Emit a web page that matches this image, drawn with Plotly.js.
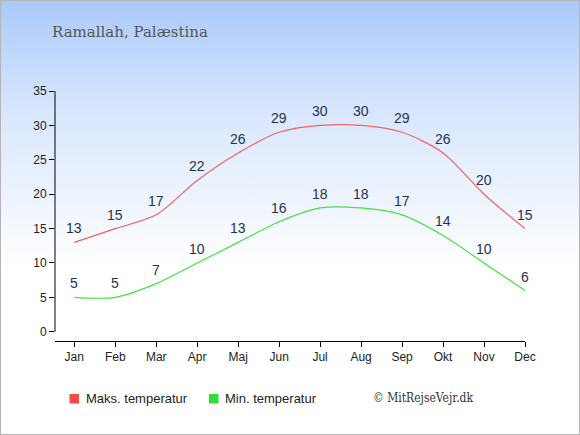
<!DOCTYPE html>
<html>
<head>
<meta charset="utf-8">
<script src="https://cdn.plot.ly/plotly-3.0.1.min.js"></script>
<style>
html,body{margin:0;padding:0;}
#wrap{position:relative;width:580px;height:435px;box-sizing:border-box;border:1px solid #b4b4b4;
background:linear-gradient(to bottom,#a9c9fb 0%,#d8e6fd 25%,#ffffff 62%,#ffffff 100%);}
#chart{position:absolute;left:-1px;top:-1px;width:580px;height:435px;}
</style>
</head>
<body>
<div id="wrap"><div id="chart"></div></div>
<script>
const months = ["Jan","Feb","Mar","Apr","Maj","Jun","Jul","Aug","Sep","Okt","Nov","Dec"];
const maxTemp = [13,15,17,22,26,29,30,30,29,26,20,15];
const minTemp = [5,5,7,10,13,16,18,18,17,14,10,6];
const yTicks = [0,5,10,15,20,25,30,35];
const seriesNames = ["Maks. temperatur","Min. temperatur"];
const seriesColors = ["#f06262","#44e044"];
const legendColors = ["#f04a4a","#33dd33"];

const W = 580, H = 435, ML = 55, MR = 55, MT = 91, MB = 94;
const PW = W - ML - MR, PH = H - MT - MB;
const px = x => (x - ML) / PW;          // pixel -> paper x
const py = y => (H - MB - y) / PH;      // pixel -> paper y

const labelFont = {family:"Arial, Liberation Sans, sans-serif", size:14, color:"#1f3352"};
const idx = months.map((m,i)=>i);

const traces = [
 {x:idx, y:maxTemp, mode:"lines", line:{color:seriesColors[0], width:1.2, shape:"spline", smoothing:0.8},
  showlegend:false, hoverinfo:"none", name:seriesNames[0]},
 {x:idx, y:minTemp, mode:"lines", line:{color:seriesColors[1], width:1.2, shape:"spline", smoothing:0.8},
  showlegend:false, hoverinfo:"none", name:seriesNames[1]}
];

const annotations = [];
[maxTemp, minTemp].forEach(series => {
  series.forEach((v,i) => {
    annotations.push({x:i, y:v, xref:"x", yref:"y", text:String(v), showarrow:false,
      yshift:14, xanchor:"center", yanchor:"middle", font:labelFont});
  });
});
// legend
const legX = [[69.5,84.3],[209,223.3]];
const shapes = [{type:"line", xref:"paper", yref:"y", x0:0, x1:0, y0:0, y1:35,
   line:{color:"#000", width:1}}];
seriesNames.forEach((n,k) => {
  shapes.push({type:"rect", xref:"paper", yref:"paper",
    x0:px(legX[k][0]), x1:px(legX[k][0]+9.5), y0:py(394), y1:py(403.5),
    fillcolor:legendColors[k], line:{width:0}});
  annotations.push({text:n, xref:"paper", yref:"paper", x:px(legX[k][1]), xanchor:"left",
    y:py(398.5), yanchor:"middle", showarrow:false,
    font:{family:"Arial, Liberation Sans, sans-serif", size:13, color:"#222"}});
});
annotations.push({text:"© MitRejseVejr.dk", xref:"paper", yref:"paper",
   x:px(475), xanchor:"right", y:py(398), yanchor:"middle", showarrow:false,
   font:{family:"DejaVu Serif Condensed, DejaVu Serif, Georgia, serif", size:12, color:"#333"}});

const axFont = {family:"Arial, Liberation Sans, sans-serif", size:12, color:"#222"};
const layout = {
 width:W, height:H,
 paper_bgcolor:"rgba(0,0,0,0)", plot_bgcolor:"rgba(0,0,0,0)",
 margin:{l:ML, r:MR, t:MT, b:MB, pad:0},
 title:{text:"Ramallah, Palæstina", x:52/W, xanchor:"left", y:1-32/H, yanchor:"middle",
   font:{family:"DejaVu Serif, Georgia, serif", size:15, color:"#555"}},
 xaxis:{range:[-0.47, 11], tickmode:"array", tickvals:idx, ticktext:months,
   showgrid:false, zeroline:false, showline:true, linecolor:"#000", linewidth:1,
   ticks:"outside", ticklen:5, tickcolor:"#000", tickfont:axFont, fixedrange:true},
 yaxis:{range:[-1.34, 35], tickmode:"array", tickvals:yTicks, ticktext:yTicks.map(String),
   showgrid:false, zeroline:false, showline:false,
   ticks:"outside", ticklen:5, tickcolor:"#000", tickfont:axFont, fixedrange:true},
 shapes:shapes,
 showlegend:false,
 annotations:annotations
};

Plotly.newPlot("chart", traces, layout, {displayModeBar:false, staticPlot:true});
</script>
</body>
</html>
